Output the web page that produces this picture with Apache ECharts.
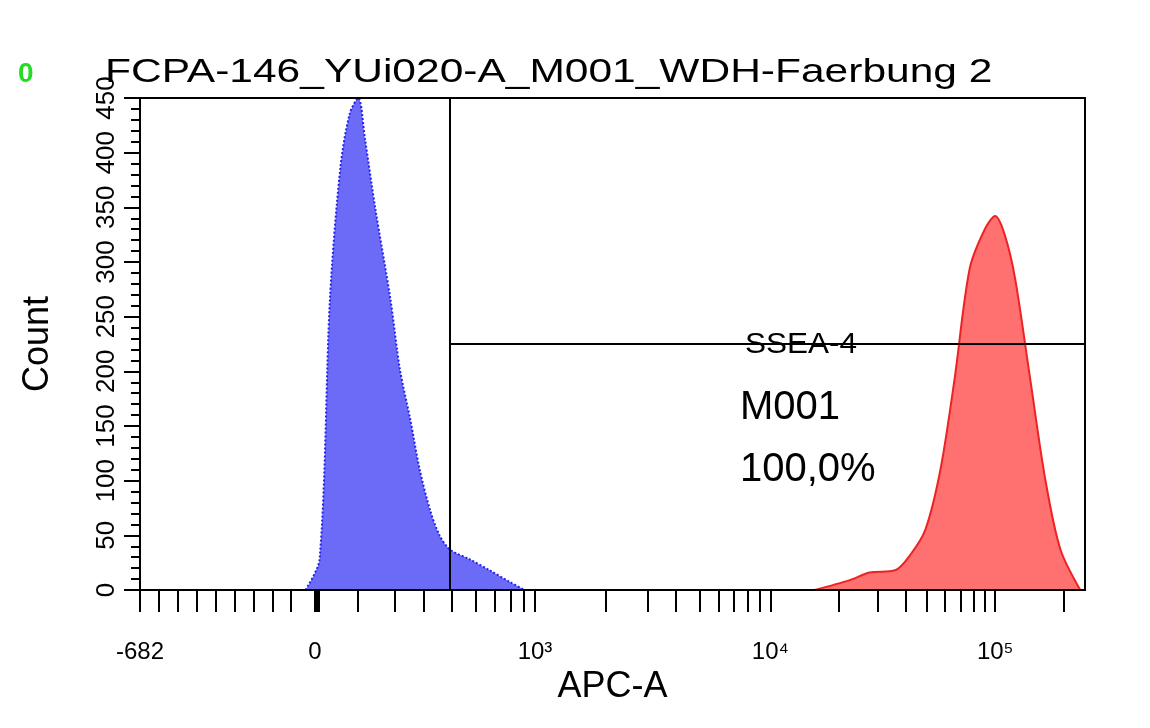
<!DOCTYPE html>
<html><head><meta charset="utf-8">
<script src="https://cdn.jsdelivr.net/npm/echarts@6/dist/echarts.min.js"></script>
<style>html,body{margin:0;background:#fff}#c{width:1150px;height:728px}</style>
</head><body><div id="c"></div>
<script>
// display channel (0..1000) vs count
const blueX = [175, 190, 201, 212, 222, 231, 238, 249, 265, 275, 286, 296, 307, 317, 328, 349, 370, 392, 407];
const blueY = [0, 28, 266, 386, 436, 450, 413, 349, 266, 202, 156, 110, 73, 50, 37, 28, 18, 7, 0];
const redX = [714, 751, 772, 799, 815, 831, 847, 862, 878, 894, 905, 915, 926, 942, 958, 974, 995];
const redY = [0, 9, 16, 18, 32, 55, 110, 193, 294, 330, 342, 325, 285, 193, 101, 37, 0];
const xLabelPos = [0, 185, 418, 667, 905];
const xLabels = ['-682', '0', '10³', '10⁴', '10⁵'];
const xTicks = [0, 20, 40, 60, 80, 100, 120, 140, 160, 185, 187, 189, 230, 270, 300, 330, 355, 375, 392, 406,
  418, 493, 537, 567, 592, 612, 628, 643, 656, 667, 739, 781, 810, 833, 852, 868, 882, 894, 905, 977];
const gateX = 328, gateY = 225;

const chart = echarts.init(document.getElementById('c'));
const font = 'Liberation Sans';
chart.setOption({
  animation: false,
  grid: {left: 140, right: 65, top: 98, bottom: 138},
  xAxis: {
    type: 'value', min: 0, max: 1000,
    name: 'APC-A', nameLocation: 'middle', nameGap: 78,
    nameTextStyle: {fontFamily: font, fontSize: 36, color: '#000'},
    axisLine: {onZero: false, lineStyle: {color: '#000', width: 2}},
    axisTick: {customValues: xTicks, length: 22, lineStyle: {color: '#000', width: 2}},
    axisLabel: {customValues: xLabelPos, margin: 50, fontFamily: font, fontSize: 24, color: '#000',
      formatter: v => xLabels[xLabelPos.indexOf(v)]},
    splitLine: {show: false}
  },
  yAxis: {
    type: 'value', min: 0, max: 450, interval: 50,
    name: 'Count', nameLocation: 'middle', nameGap: 84, nameRotate: 90,
    nameTextStyle: {fontFamily: font, fontSize: 36, color: '#000'},
    axisLine: {lineStyle: {color: '#000', width: 2}},
    axisTick: {length: 16, lineStyle: {color: '#000', width: 2}},
    minorTick: {show: true, splitNumber: 5, length: 9, lineStyle: {color: '#000', width: 2}},
    axisLabel: {rotate: 90, margin: 20, fontFamily: font, fontSize: 26, color: '#000'},
    splitLine: {show: false}
  },
  graphic: [
    {type: 'rect', shape: {x: 140, y: 98, width: 945, height: 492}, style: {fill: 'none', stroke: '#000', lineWidth: 2}, z: 10},
    {type: 'text', left: 18, top: 60, style: {text: '0', font: 'bold 28px ' + font, fill: '#22dd22'}},
    {type: 'text', x: 105, y: 56, scaleX: 1.25, style: {text: 'FCPA-146_YUi020-A_M001_WDH-Faerbung 2', font: '34px ' + font, fill: '#000'}},
    {type: 'text', x: 745, y: 330, scaleX: 1.05, style: {text: 'SSEA-4', font: '30px ' + font, fill: '#000'}},
    {type: 'text', x: 740, y: 388, style: {text: 'M001', font: '40px ' + font, fill: '#000'}},
    {type: 'text', x: 740, y: 450, style: {text: '100,0%', font: '40px ' + font, fill: '#000'}}
  ],
  series: [
    {type: 'line', smooth: 0.3, symbol: 'none', data: blueX.map((x, i) => [x, blueY[i]]),
      lineStyle: {color: '#2222ee', width: 2, type: 'dotted'}, areaStyle: {color: '#6b6bf8', opacity: 1},
      markLine: {silent: true, symbol: 'none', label: {show: false},
        lineStyle: {color: '#000', width: 2, type: 'solid'},
        data: [[{coord: [gateX, 0]}, {coord: [gateX, 450]}],
               [{coord: [gateX, gateY]}, {coord: [1000, gateY]}]]}},
    {type: 'line', smooth: 0.3, symbol: 'none', data: redX.map((x, i) => [x, redY[i]]),
      lineStyle: {color: '#ee2222', width: 2}, areaStyle: {color: '#ff7070', opacity: 1}}
  ]
});
</script></body></html>
